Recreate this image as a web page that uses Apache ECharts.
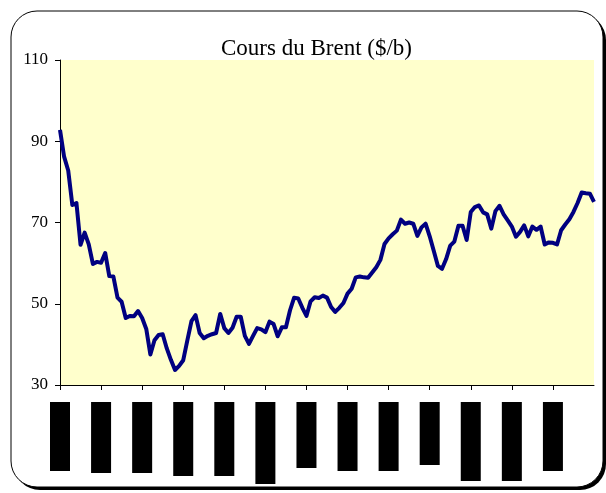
<!DOCTYPE html>
<html>
<head>
<meta charset="utf-8">
<script src="https://cdn.jsdelivr.net/npm/echarts@6/dist/echarts.min.js"></script>
<style>
  html, body { margin: 0; padding: 0; background: #fff; }
  #chartDom { width: 606px; height: 493px; }
</style>
</head>
<body>
<div id="chartDom"></div>
<script>
// month tick labels (one every 10 points)
const months = ['oct-08', 'nov-08', 'déc-08', 'janv-09', 'févr-09', 'mars-09', 'avr-09',
  'mai-09', 'juin-09', 'juil-09', 'août-09', 'sept-09', 'oct-09'];

// Brent price, $/b
const brent = [
  92.8, 86.2, 82.8, 74.3, 74.8, 64.5, 67.5, 64.6, 59.8, 60.3,
  60.1, 62.5, 56.8, 56.7, 51.5, 50.5, 46.5, 47.0, 46.9, 48.2,
  46.5, 43.8, 37.5, 41.0, 42.3, 42.5, 39.0, 36.2, 33.7, 34.7,
  36.1, 41.0, 45.7, 47.2, 42.8, 41.5, 42.1, 42.5, 42.8, 47.5,
  44.0, 42.8, 44.1, 46.8, 46.8, 42.1, 40.1, 42.1, 44.0, 43.7,
  43.0, 45.6, 45.0, 42.0, 44.2, 44.2, 48.4, 51.5, 51.3, 49.0,
  47.0, 50.6, 51.6, 51.4, 52.0, 51.5, 49.2, 48.0, 49.0, 50.2,
  52.5, 53.7, 56.5, 56.7, 56.5, 56.4, 57.7, 59.0, 60.8, 64.7,
  66.1, 67.1, 68.0, 70.7, 69.7, 70.0, 69.7, 66.7, 68.8, 69.7,
  66.6, 63.0, 59.3, 58.6, 61.0, 64.3, 65.3, 69.2, 69.2, 65.7,
  72.6, 73.8, 74.2, 72.5, 72.0, 68.5, 72.8, 74.1, 72.0, 70.5,
  69.0, 66.5, 67.7, 69.3, 66.6, 69.0, 68.2, 69.0, 64.6, 65.1,
  65.0, 64.6, 68.1, 69.5, 70.8, 72.6, 74.8, 77.4, 77.2, 77.1,
  75.1
];

const yTicks = [30, 50, 70, 90, 110];

// lengths of the (blacked out) rotated date labels
const labelLen = [69, 71, 71, 74, 74, 82, 66, 69, 69, 63, 79, 79, 69];

const serif = "'Liberation Serif', 'Times New Roman', serif";
const rich = {};
labelLen.forEach((w, i) => {
  rich['b' + i] = { width: w, height: 20, lineHeight: 20, backgroundColor: '#000', color: '#000', fontSize: 14, fontFamily: serif };
});

const isMonth = (i) => i % 10 === 0 && i / 10 < months.length;

const chart = echarts.init(document.getElementById('chartDom'));
chart.setOption({
  animation: false,
  graphic: [
    { type: 'rect', z: -10, shape: { x: 14, y: 14, width: 592, height: 476, r: 26 }, style: { fill: '#000' } },
    { type: 'rect', z: -9, shape: { x: 11, y: 11, width: 592, height: 476, r: 26 }, style: { fill: '#fff', stroke: '#000', lineWidth: 1 } }
  ],
  title: {
    text: 'Cours du Brent ($/b)',
    left: 216,
    top: 32,
    textStyle: { fontFamily: serif, fontSize: 23, fontWeight: 'normal', color: '#000' }
  },
  grid: {
    left: 60, right: 12, top: 60, bottom: 108,
    show: true, backgroundColor: '#FFFFCC', borderWidth: 0
  },
  xAxis: {
    type: 'category',
    boundaryGap: false,
    data: brent.map((_, i) => i),
    axisLine: { lineStyle: { color: '#000', width: 1 } },
    axisTick: { interval: (i) => isMonth(i), length: 5, lineStyle: { color: '#000' } },
    axisLabel: {
      interval: (i) => isMonth(i),
      rotate: 90,
      margin: 17,
      formatter: (v, i) => '{b' + (i / 10) + '|' + months[i / 10] + '}',
      rich: rich
    },
    splitLine: { show: false }
  },
  yAxis: {
    type: 'value',
    min: yTicks[0],
    max: yTicks[yTicks.length - 1],
    interval: 20,
    axisLine: { show: true, lineStyle: { color: '#000', width: 1 } },
    axisTick: { show: true, length: 5, lineStyle: { color: '#000' } },
    axisLabel: { margin: 12, color: '#000', fontFamily: serif, fontSize: 17 },
    splitLine: { show: false }
  },
  series: [{
    type: 'line',
    data: brent,
    showSymbol: false,
    lineStyle: { color: '#000080', width: 4, join: 'round' },
    itemStyle: { color: '#000080' }
  }]
});
</script>
</body>
</html>
